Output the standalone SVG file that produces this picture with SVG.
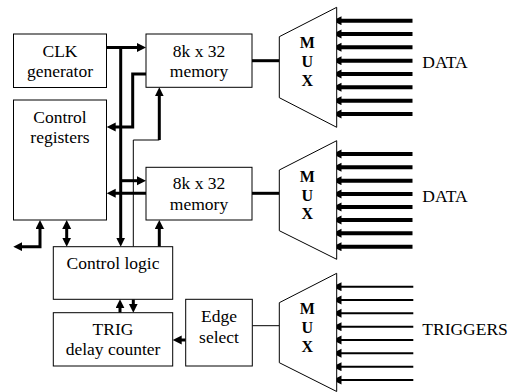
<svg xmlns="http://www.w3.org/2000/svg" width="515" height="392" viewBox="0 0 515 392">
<style>
.box{fill:#fff;stroke:#000;stroke-width:1}
.t{font-family:"Liberation Serif","Times New Roman",serif;font-size:17.5px;fill:#000}
.c{text-anchor:middle}
.m{font-family:"Liberation Serif","Times New Roman",serif;font-size:16px;font-weight:bold;text-anchor:middle;fill:#000}
.mux{fill:#fff;stroke:#000;stroke-width:1}
.thick{fill:none;stroke:#000;stroke-width:3}
.thin{fill:none;stroke:#000;stroke-width:1}
.data{fill:none;stroke:#000;stroke-width:4;marker-end:url(#ah)}
.trig{fill:none;stroke:#000;stroke-width:2;marker-end:url(#ah)}
</style>
<defs>
<marker id="ah" markerUnits="userSpaceOnUse" markerWidth="10" markerHeight="10" refX="3" refY="4.5" orient="auto-start-reverse" viewBox="0 0 10 10"><path d="M0,0 L9,4.5 L0,9 z" fill="#000"/></marker>
</defs>
<rect width="515" height="392" fill="#fff"/>
<g id="connectors">
<path class="thick" d="M106.5,47.5 H140" marker-end="url(#ah)"/>
<path class="thick" d="M120.7,47.5 V240.7" marker-end="url(#ah)"/>
<path class="thick" d="M146,74 H132.7 V127 H112.7" marker-end="url(#ah)"/>
<path class="thin" d="M133.3,246.7 V140 H159.3"/>
<path class="thick" d="M159.3,140 V93.3" marker-end="url(#ah)"/>
<path class="thick" d="M120.7,180.7 H140" marker-end="url(#ah)"/>
<path class="thick" d="M146,193.3 H112.7" marker-end="url(#ah)"/>
<path class="thick" d="M159.3,246.7 V226" marker-end="url(#ah)"/>
<path class="thick" d="M40,226 V246.7 H19.3" marker-start="url(#ah)" marker-end="url(#ah)"/>
<path class="thick" d="M66.7,226 V240.7" marker-start="url(#ah)" marker-end="url(#ah)"/>
<path class="thick" d="M120,312.7 V305.3" marker-end="url(#ah)"/>
<path class="thick" d="M133.3,299.3 V306.7" marker-end="url(#ah)"/>
<path class="thick" d="M185.7,340 H178.7" marker-end="url(#ah)"/>
<path class="thick" d="M252,60.7 H279.3"/>
<path class="thick" d="M252,193.3 H279.3"/>
<path class="thin" d="M252.3,325.7 H279.3"/>
<path class="data" d="M412.5,20.7 H338.5"/>
<path class="data" d="M412.5,34 H338.5"/>
<path class="data" d="M412.5,47.3 H338.5"/>
<path class="data" d="M412.5,60.7 H338.5"/>
<path class="data" d="M412.5,74 H338.5"/>
<path class="data" d="M412.5,87.3 H338.5"/>
<path class="data" d="M412.5,100.7 H338.5"/>
<path class="data" d="M412.5,114 H338.5"/>
<path class="data" d="M412.5,154 H338.5"/>
<path class="data" d="M412.5,167.3 H338.5"/>
<path class="data" d="M412.5,180.7 H338.5"/>
<path class="data" d="M412.5,194 H338.5"/>
<path class="data" d="M412.5,207 H338.5"/>
<path class="data" d="M412.5,220 H338.5"/>
<path class="data" d="M412.5,233.3 H338.5"/>
<path class="data" d="M412.5,246.7 H338.5"/>
<path class="trig" d="M413.3,286.7 H338.5"/>
<path class="trig" d="M413.3,300 H338.5"/>
<path class="trig" d="M413.3,313.3 H338.5"/>
<path class="trig" d="M413.3,326.7 H338.5"/>
<path class="trig" d="M413.3,340 H338.5"/>
<path class="trig" d="M413.3,353.3 H338.5"/>
<path class="trig" d="M413.3,366.7 H338.5"/>
<path class="trig" d="M413.3,380 H338.5"/>
</g>
<g id="clk">
<rect class="box" x="13.5" y="34" width="93" height="53.5"/>
<text class="t c" x="60" y="56.7">CLK</text>
<text class="t c" x="60" y="77.3">generator</text>
</g>
<g id="mem1">
<rect class="box" x="146" y="34" width="106" height="53.3"/>
<text class="t c" x="199" y="56.7">8k x 32</text>
<text class="t c" x="199" y="77.3">memory</text>
</g>
<g id="ctrlreg">
<rect class="box" x="13.5" y="100" width="93" height="120"/>
<text class="t c" x="60" y="123.3">Control</text>
<text class="t c" x="60" y="143.3">registers</text>
</g>
<g id="mem2">
<rect class="box" x="146" y="167.3" width="106" height="52.7"/>
<text class="t c" x="199" y="188.5">8k x 32</text>
<text class="t c" x="199" y="210">memory</text>
</g>
<g id="ctrllogic">
<rect class="box" x="53.3" y="246.7" width="119.4" height="52.6"/>
<text class="t c" x="113" y="269.3">Control logic</text>
</g>
<g id="trig">
<rect class="box" x="53.3" y="312.7" width="119.4" height="53.3"/>
<text class="t c" x="113" y="335">TRIG</text>
<text class="t c" x="113" y="355">delay counter</text>
</g>
<g id="edge">
<rect class="box" x="185.7" y="299.3" width="66.6" height="66.7"/>
<text class="t c" x="219" y="321.7">Edge</text>
<text class="t c" x="219" y="342.7">select</text>
</g>
<g id="mux1">
<path class="mux" d="M279.3,36.7 L336.7,7.3 V127.3 L279.3,97.7 Z"/>
<text class="m" x="307.3" y="48.3">M</text>
<text class="m" x="307.3" y="67.3">U</text>
<text class="m" x="307.3" y="85.8">X</text>
</g>
<g id="mux2">
<path class="mux" d="M279.3,170 L336.7,140.7 V259.3 L279.3,230.7 Z"/>
<text class="m" x="307.3" y="181.7">M</text>
<text class="m" x="307.3" y="200.7">U</text>
<text class="m" x="307.3" y="219.2">X</text>
</g>
<g id="mux3">
<path class="mux" d="M279.3,302.7 L336.7,273.3 V391.5 L279.3,362.7 Z"/>
<text class="m" x="307.3" y="314.3">M</text>
<text class="m" x="307.3" y="333.3">U</text>
<text class="m" x="307.3" y="351.8">X</text>
</g>
<g id="labels">
<text class="t" x="422.3" y="68.3">DATA</text>
<text class="t" x="422.3" y="201.7">DATA</text>
<text class="t" x="422.3" y="335">TRIGGERS</text>
</g>
</svg>
